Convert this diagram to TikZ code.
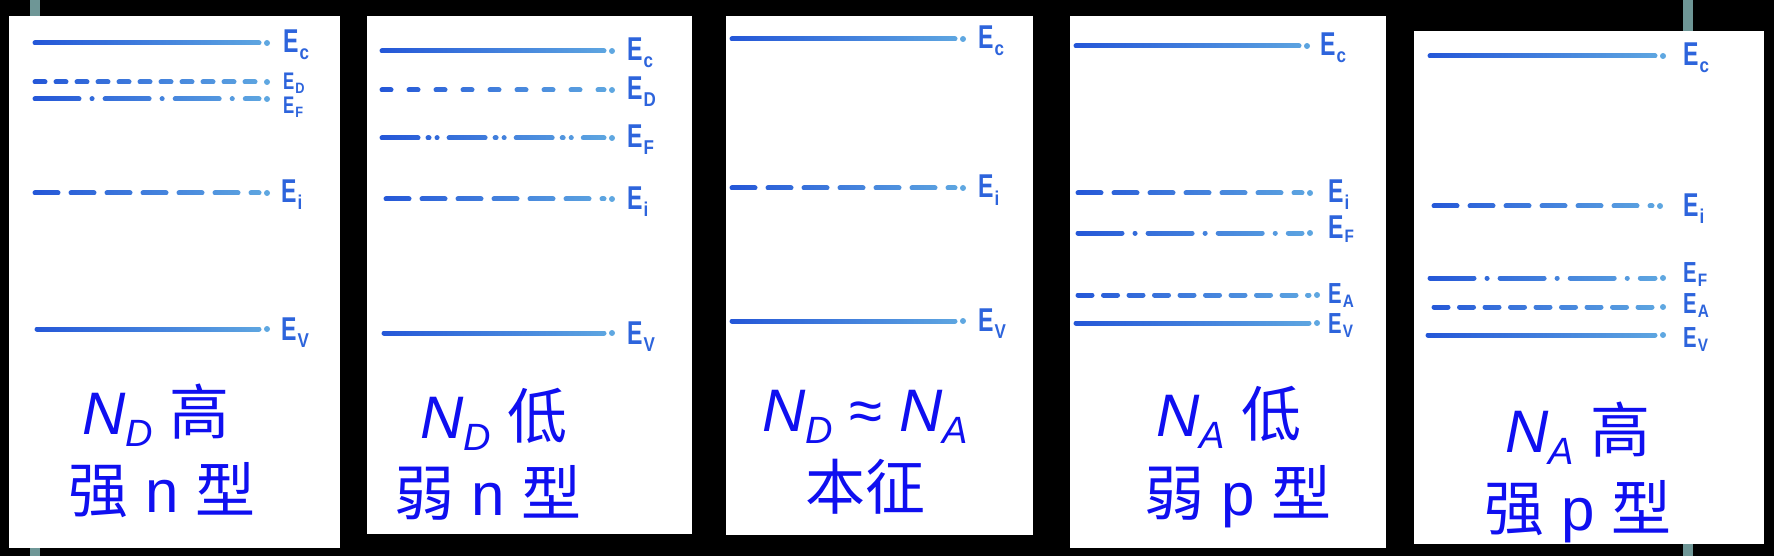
\documentclass[tikz,border=0pt]{standalone}
\usepackage{fontspec}
\setmainfont{Liberation Sans}
\newfontfamily\cjk{Noto Sans CJK SC}
\definecolor{stripe}{RGB}{110,150,150}
\definecolor{ink}{RGB}{35,85,215}
\definecolor{inkadd}{RGB}{70,125,60}
\definecolor{lab}{RGB}{45,100,220}
\definecolor{txt}{RGB}{15,15,240}
\tikzset{
  panel/.style={fill=white},
  lvl/.style={draw=ink, line width=5pt, line cap=round},
  solidlvl/.style={lvl},
  dashD/.style={lvl, dash pattern=on 10pt off 11pt},
  dashDb/.style={lvl, dash pattern=on 9pt off 18pt},
  dashF/.style={lvl, dash pattern=on 44pt off 13pt on 0.1pt off 13pt},
  dashFb/.style={lvl, dash pattern=on 36pt off 10pt on 1pt off 8pt on 0.1pt off 12pt},
  dashI/.style={lvl, dash pattern=on 23pt off 13pt},
  dashA/.style={lvl, dash pattern=on 14pt off 11.5pt},
  elab/.style={anchor=base west, text=lab, inner sep=0pt, font=\fontsize{33}{33}\selectfont\bfseries},
  elabs/.style={elab, font=\fontsize{29}{29}\selectfont\bfseries},
  caption/.style={text=txt, font=\fontsize{60}{60}\selectfont, inner sep=0pt, anchor=base},
  fadeover/.style={blend mode=screen, left color=black, middle color=inkadd!45!black, right color=inkadd},
}
\newcommand\El[1]{\scalebox{0.7}[1]{E}\kern1pt\raisebox{-7pt}{\fontsize{20}{20}\selectfont\scalebox{0.85}[1]{#1}}}
\newcommand\Ek[1]{\scalebox{0.7}[1]{E}\kern1pt\raisebox{-4pt}{\fontsize{18}{18}\selectfont\scalebox{0.85}[1]{#1}}}
\newcommand\Es[1]{{\fontsize{24}{24}\selectfont\scalebox{0.7}[1]{E}\kern1pt\raisebox{-4pt}{\fontsize{15}{15}\selectfont\scalebox{0.85}[1]{#1}}}}
\newcommand\Nsub[1]{\textit{N}\raisebox{-0.2em}{\fontsize{38}{38}\selectfont\textit{#1}}}
% #1 style, #2 x start, #3 x end, #4 y, #5 label x, #6 label baseline y, #7 label, #8 name, #9 label style
\newcommand\level[9]{%
  \coordinate (#8-a) at (#2,#4);
  \coordinate (#8-b) at (#3-8,#4);
  \node[#9] (#8) at (#5,#6) {#7};
  \draw[#1] (#8-a) -- (#8-b);
  \fill[ink] (#3,#4) circle (3);
}
\begin{document}
\begin{tikzpicture}[x=1pt,y=-1pt]
\useasboundingbox (0,0) rectangle (1774,556);
\fill[black] (0,0) rectangle (1774,556);
\fill[stripe] (30,0) rectangle (40,556);
\fill[stripe] (1683,0) rectangle (1693,556);
% panels
\fill[panel] (9,16) rectangle (340,548);
\fill[panel] (367,16) rectangle (692,534);
\fill[panel] (726,16) rectangle (1033,535);
\fill[panel] (1070,16) rectangle (1386,548);
\fill[panel] (1414,31) rectangle (1764,544);

% panel 1: strong n
\level{solidlvl}{35}{267}{43}{283}{53}{\El{c}}{p1c}{elab}
\level{dashD}{35}{267}{82}{283}{90}{\Es{D}}{p1d}{elab}
\level{dashF}{35}{267}{99}{283}{114}{\Es{F}}{p1f}{elab}
\level{dashI}{35}{267}{193}{281}{203}{\El{i}}{p1i}{elab}
\level{solidlvl}{37}{267}{329}{281}{340}{\El{V}}{p1v}{elab}
\shade[fadeover] (29,36) rectangle (271,336);
\node[caption] (t1a) at (156,434) {\Nsub{D} {\cjk 高}};
\node[caption] (t1b) at (162,512) {{\cjk 强} n {\cjk 型}};

% panel 2: weak n
\level{solidlvl}{382}{612}{51}{627}{61}{\El{c}}{p2c}{elab}
\level{dashDb}{382}{612}{90}{627}{100}{\El{D}}{p2d}{elab}
\level{dashFb}{382}{612}{138}{627}{148}{\El{F}}{p2f}{elab}
\level{dashI}{386}{612}{199}{627}{209}{\El{i}}{p2i}{elab}
\level{solidlvl}{384}{612}{333}{627}{344}{\El{V}}{p2v}{elab}
\shade[fadeover] (376,44) rectangle (616,340);
\node[caption] (t2a) at (494,438) {\Nsub{D} {\cjk 低}};
\node[caption] (t2b) at (488,515) {{\cjk 弱} n {\cjk 型}};

% panel 3: intrinsic
\level{solidlvl}{732}{963}{39}{978}{49}{\El{c}}{p3c}{elab}
\level{dashI}{732}{963}{188}{978}{198}{\El{i}}{p3i}{elab}
\level{solidlvl}{732}{963}{321}{978}{331}{\El{V}}{p3v}{elab}
\shade[fadeover] (726,32) rectangle (967,328);
\node[caption] (t3a) at (865,431) {\Nsub{D} ≈ \Nsub{A}};
\node[caption] (t3b) at (865,509) {\cjk 本征};

% panel 4: weak p
\level{solidlvl}{1076}{1307}{46}{1320}{56}{\El{c}}{p4c}{elab}
\level{dashI}{1078}{1310}{193}{1328}{203}{\El{i}}{p4i}{elab}
\level{dashF}{1078}{1310}{233}{1328}{238}{\Ek{F}}{p4f}{elab}
\level{dashA}{1078}{1317}{295}{1328}{303}{\Ek{A}}{p4a}{elabs}
\level{solidlvl}{1076}{1317}{323}{1328}{333}{\Ek{V}}{p4v}{elabs}
\shade[fadeover] (1070,39) rectangle (1321,330);
\node[caption] (t4a) at (1229,436) {\Nsub{A} {\cjk 低}};
\node[caption] (t4b) at (1238,515) {{\cjk 弱} p {\cjk 型}};

% panel 5: strong p
\level{solidlvl}{1430}{1663}{56}{1683}{66}{\El{c}}{p5c}{elab}
\level{dashI}{1434}{1660}{206}{1683}{216}{\El{i}}{p5i}{elab}
\level{dashF}{1430}{1663}{278}{1683}{282}{\Ek{F}}{p5f}{elabs}
\level{dashA}{1434}{1663}{307}{1683}{313}{\Ek{A}}{p5a}{elabs}
\level{solidlvl}{1428}{1663}{335}{1683}{347}{\Ek{V}}{p5v}{elabs}
\shade[fadeover] (1422,49) rectangle (1667,342);
\node[caption] (t5a) at (1578,452) {\Nsub{A} {\cjk 高}};
\node[caption] (t5b) at (1578,530) {{\cjk 强} p {\cjk 型}};
\end{tikzpicture}
\end{document}
